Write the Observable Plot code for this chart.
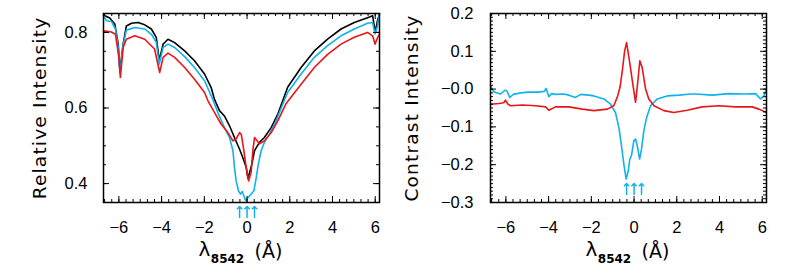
<!DOCTYPE html>
<html><head><meta charset="utf-8">
<script src="https://cdn.jsdelivr.net/npm/d3@7"></script>
<script src="https://cdn.jsdelivr.net/npm/@observablehq/plot@0.6"></script>
<style>
body{margin:0;background:#fff}
#wrap{display:flex;width:789px;height:270px;overflow:hidden}
#wrap text[transform*="rotate(-90"]{letter-spacing:1.2px}
</style></head><body><div id="wrap"></div>
<script>
// ---------- Left panel: relative intensity ----------
const blackWl = [-6.72,-6.66,-6.43,-6.19,-6.03,-5.95,-5.8,-5.65,-5.41,-5.1,-4.79,-4.48,-4.25,-4.11,-3.93,-3.7,-3.39,-2.92,-2.46,-1.99,-1.68,-1.52,-1.29,-1.06,-0.82,-0.59,-0.35,-0.2,-0.04,0.04,0.19,0.35,0.58,0.81,1.13,1.44,1.67,1.9,2.53,3.15,3.77,4.4,5.02,5.64,5.88,6.0,6.1,6.2];
const blackI  = [0.846,0.844,0.838,0.822,0.769,0.698,0.769,0.817,0.824,0.826,0.82,0.809,0.787,0.726,0.769,0.782,0.773,0.751,0.725,0.69,0.654,0.622,0.593,0.579,0.553,0.522,0.491,0.469,0.443,0.414,0.443,0.487,0.509,0.522,0.548,0.584,0.619,0.655,0.707,0.751,0.782,0.809,0.826,0.839,0.844,0.80,0.83,0.848];

const cyanWl = [-6.72,-6.66,-6.58,-6.35,-6.16,-6.03,-5.95,-5.82,-5.65,-5.26,-4.79,-4.48,-4.25,-4.11,-3.93,-3.7,-3.39,-2.92,-2.46,-1.99,-1.6,-1.36,-1.06,-0.82,-0.66,-0.59,-0.51,-0.4,-0.31,-0.23,-0.15,-0.07,0.04,0.19,0.32,0.43,0.53,0.66,0.81,1.05,1.36,1.67,1.9,2.53,3.15,3.77,4.4,5.02,5.64,5.88,5.99,6.1,6.2];
const cyanI  = [0.85,0.838,0.831,0.829,0.809,0.76,0.692,0.76,0.806,0.813,0.809,0.795,0.774,0.716,0.76,0.769,0.76,0.736,0.707,0.672,0.622,0.587,0.548,0.522,0.487,0.443,0.407,0.381,0.372,0.379,0.368,0.355,0.363,0.372,0.381,0.416,0.452,0.487,0.509,0.531,0.566,0.61,0.641,0.69,0.734,0.765,0.791,0.809,0.824,0.826,0.796,0.815,0.85];

const redWl = [-6.72,-6.35,-6.16,-6.0,-5.93,-5.8,-5.65,-5.26,-4.79,-4.33,-4.09,-3.93,-3.7,-3.39,-2.92,-2.46,-1.99,-1.83,-1.52,-1.21,-0.9,-0.66,-0.51,-0.35,-0.27,-0.15,-0.04,0.07,0.19,0.27,0.35,0.45,0.58,0.81,1.13,1.44,1.83,2.53,3.15,3.77,4.4,5.02,5.64,5.88,5.99,6.1,6.2];
const redI  = [0.804,0.801,0.795,0.734,0.681,0.76,0.782,0.791,0.782,0.756,0.694,0.734,0.745,0.734,0.707,0.676,0.641,0.619,0.588,0.557,0.535,0.513,0.518,0.535,0.53,0.487,0.443,0.407,0.429,0.487,0.522,0.515,0.505,0.513,0.535,0.566,0.612,0.663,0.707,0.742,0.769,0.787,0.8,0.791,0.769,0.785,0.795];

// ---------- Right panel: contrast ----------
const cyanCWl = [-6.72,-6.6,-6.48,-6.25,-6.05,-5.95,-5.82,-5.65,-5.3,-4.93,-4.5,-4.2,-4.12,-3.99,-3.85,-3.68,-3.3,-3.05,-2.74,-2.5,-2.12,-1.88,-1.41,-1.1,-0.87,-0.71,-0.6,-0.48,-0.37,-0.27,-0.2,-0.12,-0.01,0.07,0.15,0.26,0.35,0.46,0.59,0.77,1.09,1.55,2.1,2.65,2.88,3.66,4.44,5.22,5.69,5.92,6.08,6.19];
const cyanC   = [0.009,-0.005,-0.009,-0.013,-0.003,-0.005,-0.022,-0.014,-0.01,-0.008,-0.008,-0.006,0.002,-0.02,-0.012,-0.014,-0.013,-0.016,-0.022,-0.014,-0.016,-0.018,-0.026,-0.04,-0.062,-0.102,-0.145,-0.198,-0.238,-0.216,-0.185,-0.176,-0.137,-0.132,-0.15,-0.185,-0.159,-0.11,-0.075,-0.044,-0.026,-0.018,-0.016,-0.013,-0.013,-0.016,-0.012,-0.013,-0.012,-0.026,-0.018,0.0];

const redCWl = [-6.72,-6.33,-6.1,-6.02,-5.9,-5.78,-5.23,-4.61,-4.14,-3.99,-3.68,-3.05,-2.42,-1.88,-1.25,-0.95,-0.79,-0.66,-0.55,-0.44,-0.35,-0.24,-0.08,0.07,0.18,0.27,0.38,0.54,0.69,0.93,1.4,1.86,2.49,3.19,3.97,4.75,5.53,5.85,6.19];
const redC   = [-0.04,-0.038,-0.036,-0.029,-0.04,-0.044,-0.042,-0.044,-0.047,-0.056,-0.047,-0.047,-0.053,-0.057,-0.053,-0.044,-0.022,0.004,0.048,0.101,0.123,0.084,0.022,-0.035,0.022,0.075,0.057,0.0,-0.026,-0.044,-0.057,-0.062,-0.056,-0.047,-0.044,-0.047,-0.047,-0.053,-0.062];

// ---------- Axes / ticks / labels ----------
const xDomain = [-6.72, 6.2];
const xMajor = [-6, -4, -2, 0, 2, 4, 6];
const xMinor = d3.range(-20, 19).map(i => i / 3);
const arrowWl = [-0.35, 0, 0.35];

const leftYDomain = [0.35, 0.85];
const leftYMajor = [0.4, 0.6, 0.8];
const leftYLabels = ["0.4", "0.6", "0.8"];
const leftYMinor = d3.range(7, 18).map(i => i * 0.05);

const rightYDomain = [-0.3, 0.2];
const rightYMajor = [0.2, 0.1, 0.0, -0.1, -0.2, -0.3];
const rightYLabels = ["0.2", "0.1", "\u22120.0", "\u22120.1", "\u22120.2", "\u22120.3"];
const rightYMinor = d3.range(-30, 21).map(i => i / 100);

const leftTitle = "Relative Intensity";
const rightTitle = "Contrast Intensity";
const xTitleMain = "\u03bb";
const xTitleSub = "8542";
const xTitleUnit = "(\u00c5)";

const BLACK = "#000000", CYAN = "#10b2ee", RED = "#e8161b";

const toRows = (xs, ys) => xs.map((x, i) => ({x, y: ys[i]}));

function panel(cfg) {
  const H = 270, mt = 13, mb = 68;
  const fh = H - mt - mb;
  const fw = cfg.width - cfg.ml - cfg.mr;
  const majLen = 6, minLen = 3;
  const tick = {stroke: "black", strokeWidth: 1};
  const titleFont = {fontFamily: "DejaVu Sans", fill: "black"};
  return Plot.plot({
    width: cfg.width, height: H,
    marginLeft: cfg.ml, marginRight: cfg.mr, marginTop: mt, marginBottom: mb,
    style: {fontFamily: "Liberation Sans", fontSize: "16.5px", color: "black", background: "white", overflow: "visible"},
    x: {domain: xDomain, label: null},
    y: {domain: cfg.yDomain, label: null},
    marks: [
      ...cfg.series.map(s => Plot.line(toRows(s.x, s.y), {x: "x", y: "y", stroke: s.color, strokeWidth: 1.6})),
      // inward ticks on all four sides
      Plot.tickX(xMajor, {x: d => d, insetTop: fh - majLen, ...tick}),
      Plot.tickX(xMinor, {x: d => d, insetTop: fh - minLen, ...tick}),
      Plot.tickX(xMajor, {x: d => d, insetBottom: fh - majLen, ...tick}),
      Plot.tickX(xMinor, {x: d => d, insetBottom: fh - minLen, ...tick}),
      Plot.tickY(cfg.yMajor, {y: d => d, insetRight: fw - majLen, ...tick}),
      Plot.tickY(cfg.yMinor, {y: d => d, insetRight: fw - minLen, ...tick}),
      Plot.tickY(cfg.yMajor, {y: d => d, insetLeft: fw - majLen, ...tick}),
      Plot.tickY(cfg.yMinor, {y: d => d, insetLeft: fw - minLen, ...tick}),
      Plot.frame({stroke: "black", strokeWidth: 1.5}),
      Plot.axisX(xMajor, {tickSize: 0, tickPadding: 19, label: null, tickFormat: d => d3.format("d")(d).replace("-", "\u2212")}),
      Plot.axisY(cfg.yMajor, {tickSize: 0, tickPadding: cfg.yPad, label: null, tickFormat: (d, i) => cfg.yLabels[i]}),
      // arrows
      Plot.vector(arrowWl, {x: d => d, frameAnchor: "bottom", dy: cfg.arrowDy, anchor: "start", rotate: 0, length: 11, stroke: CYAN, strokeWidth: 1.5}),
      // y title
      Plot.text([cfg.title], {text: d => d, frameAnchor: "left", textAnchor: "middle", dx: cfg.titleDx, rotate: -90, lineAnchor: "middle", fontSize: 18.5, ...titleFont}),
      // x title
      Plot.text([xTitleMain], {text: d => d, frameAnchor: "bottom", textAnchor: "middle", dx: -37, dy: 53, lineAnchor: "bottom", fontSize: 20, ...titleFont}),
      Plot.text([xTitleSub], {text: d => d, frameAnchor: "bottom", textAnchor: "middle", dx: -14, dy: 60, lineAnchor: "bottom", fontSize: 12, fontWeight: "bold", ...titleFont}),
      Plot.text([xTitleUnit], {text: d => d, frameAnchor: "bottom", textAnchor: "middle", dx: 27, dy: 55, lineAnchor: "bottom", fontSize: 19, ...titleFont})
    ]
  });
}

const left = panel({
  width: 394, ml: 103, mr: 15,
  yDomain: leftYDomain, yMajor: leftYMajor, yMinor: leftYMinor, yLabels: leftYLabels, yPad: 16,
  title: leftTitle, titleDx: -63, arrowDy: 15,
  series: [
    {x: blackWl, y: blackI, color: BLACK},
    {x: cyanWl, y: cyanI, color: CYAN},
    {x: redWl, y: redI, color: RED}
  ]
});
const right = panel({
  width: 395, ml: 96, mr: 23,
  yDomain: rightYDomain, yMajor: rightYMajor, yMinor: rightYMinor, yLabels: rightYLabels, yPad: 17,
  title: rightTitle, titleDx: -78, arrowDy: -8,
  series: [
    {x: cyanCWl, y: cyanC, color: CYAN},
    {x: redCWl, y: redC, color: RED}
  ]
});
document.getElementById("wrap").append(left, right);
</script>
</body></html>
